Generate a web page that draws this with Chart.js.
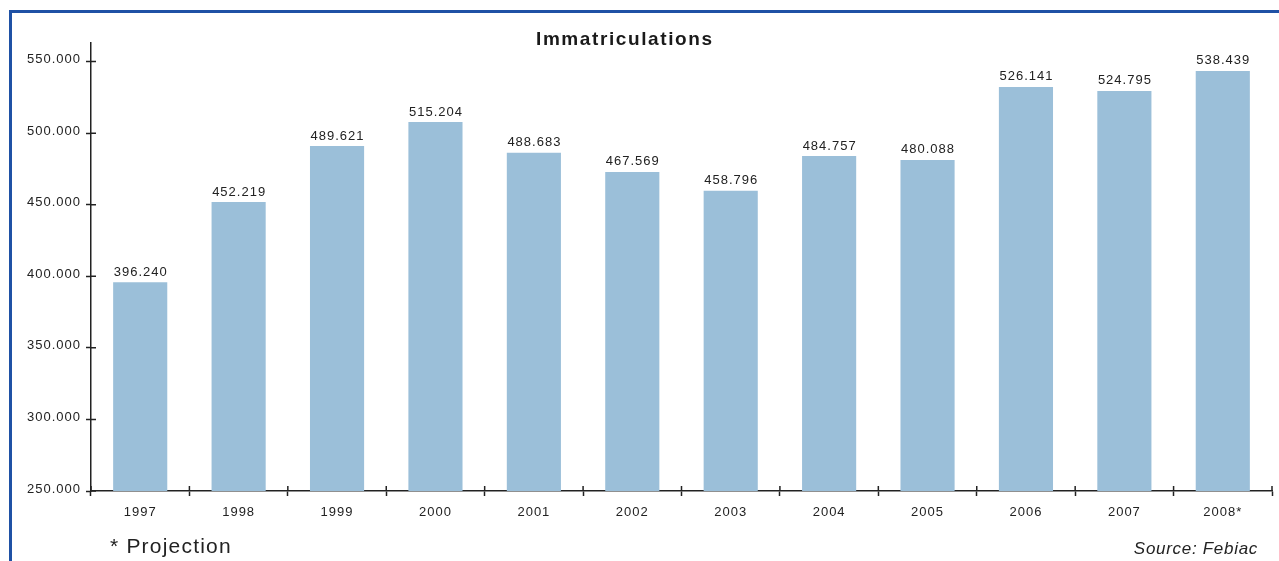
<!DOCTYPE html>
<html>
<head>
<meta charset="utf-8">
<script src="https://cdn.jsdelivr.net/npm/chart.js@4"></script>
<style>
  html, body { margin: 0; padding: 0; background: #fff; }
  #wrap { position: relative; width: 1279px; height: 561px; overflow: hidden; font-family: "Liberation Sans", Arial, Helvetica, sans-serif; color: #222; }
  #frame { position: absolute; left: 9px; top: 10px; right: -10px; bottom: -10px; border-top: 3px solid #1f51a5; border-left: 3px solid #1f51a5; }
  canvas { position: absolute; left: 0; top: 0; }
  .txt { position: absolute; white-space: nowrap; line-height: 1; }
  #title { left: 536px; top: 29px; font-size: 19px; font-weight: bold; letter-spacing: 1.6px; color: #1a1a1a; }
  #note { left: 110px; top: 535px; font-size: 21px; letter-spacing: 1.2px; }
  #source { right: 21px; top: 540px; font-size: 17px; font-style: italic; letter-spacing: 0.7px; }
</style>
</head>
<body>
<div id="wrap">
  <div id="frame"></div>
  <canvas id="c" width="1279" height="561"></canvas>
  <div class="txt" id="title">Immatriculations</div>
  <div class="txt" id="note">* Projection</div>
  <div class="txt" id="source">Source: Febiac</div>
</div>
<script>
// Categories (years)
const years = ['1997', '1998', '1999', '2000', '2001', '2002', '2003', '2004', '2005', '2006', '2007', '2008*'];
// Bar heights as drawn in the picture
const registrations = [395900, 451900, 491000, 507800, 486400, 472900, 459800, 484000, 481300, 532300, 529500, 543500];
// Value labels printed above the bars
const valueLabels = ['396.240', '452.219', '489.621', '515.204', '488.683', '467.569', '458.796', '484.757', '480.088', '526.141', '524.795', '538.439'];
// Y axis tick values
const yTicks = [250000, 300000, 350000, 400000, 450000, 500000, 550000];
const yMin = 250000;
const yMax = 563000;

const ink = '#222222';
const fontFamily = '"Liberation Sans", Arial, Helvetica, sans-serif';

function fmtThousands(v) {
  return String(Math.round(v)).replace(/\B(?=(\d{3})+(?!\d))/g, '.');
}

const spacingPlugin = {
  id: 'spacing',
  beforeDraw(chart) { chart.ctx.letterSpacing = '1px'; }
};

const innerTicks = {
  id: 'innerTicks',
  afterDraw(chart) {
    const ctx = chart.ctx;
    const x = chart.scales.x, y = chart.scales.y;
    ctx.save();
    ctx.strokeStyle = ink;
    ctx.lineWidth = 1.5;
    ctx.beginPath();
    yTicks.forEach(v => {
      const py = y.getPixelForValue(v);
      ctx.moveTo(x.left, py);
      ctx.lineTo(x.left + 5, py);
    });
    for (let i = 0; i <= years.length; i++) {
      const px = x.getPixelForValue(i - 0.5);
      ctx.moveTo(px, y.bottom);
      ctx.lineTo(px, y.bottom - 5);
    }
    ctx.stroke();
    ctx.restore();
  }
};

const valueLabelPlugin = {
  id: 'valueLabels',
  afterDatasetsDraw(chart) {
    const ctx = chart.ctx;
    const meta = chart.getDatasetMeta(0);
    ctx.save();
    ctx.letterSpacing = '1px';
    ctx.font = '13px ' + fontFamily;
    ctx.fillStyle = ink;
    ctx.textAlign = 'center';
    ctx.textBaseline = 'alphabetic';
    meta.data.forEach((bar, i) => {
      ctx.fillText(valueLabels[i], bar.x + 0.5, bar.y - 6.5);
    });
    ctx.restore();
  }
};

new Chart(document.getElementById('c'), {
  type: 'bar',
  data: {
    labels: years,
    datasets: [{
      data: registrations,
      backgroundColor: '#9bbfd9',
      borderWidth: 0,
      barPercentage: 0.55,
      categoryPercentage: 1.0
    }]
  },
  options: {
    responsive: false,
    animation: false,
    devicePixelRatio: 1,
    layout: { padding: { top: 43, left: 0, right: 7, bottom: 0 } },
    plugins: {
      legend: { display: false },
      title: { display: false },
      tooltip: { enabled: false }
    },
    scales: {
      x: {
        offset: true,
        grid: {
          offset: true,
          drawOnChartArea: false,
          drawTicks: true,
          tickLength: 5,
          tickWidth: 1.5,
          tickColor: ink
        },
        border: { display: true, color: ink, width: 1.5 },
        ticks: {
          color: ink,
          font: { family: fontFamily, size: 13 },
          padding: 9,
          maxRotation: 0,
          autoSkip: false
        },
        afterFit(scale) { scale.height = 70; }
      },
      y: {
        min: yMin,
        max: yMax,
        afterBuildTicks(scale) {
          scale.ticks = yTicks.map(v => ({ value: v }));
        },
        grid: {
          drawOnChartArea: false,
          drawTicks: true,
          tickLength: 5,
          tickWidth: 1.5,
          tickColor: ink
        },
        border: { display: true, color: ink, width: 1.5 },
        ticks: {
          color: ink,
          font: { family: fontFamily, size: 13 },
          padding: 5,
          labelOffset: -2,
          callback: (v) => fmtThousands(v)
        },
        afterFit(scale) { scale.width = 91; }
      }
    }
  },
  plugins: [spacingPlugin, innerTicks, valueLabelPlugin]
});
</script>
</body>
</html>
